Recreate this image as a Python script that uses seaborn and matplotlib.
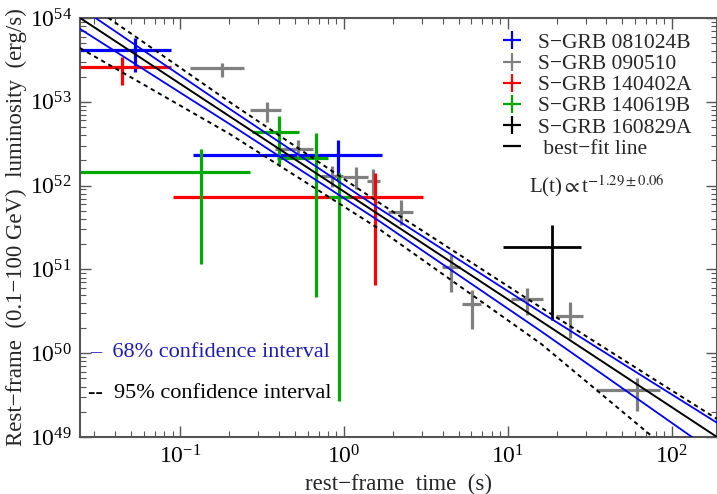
import numpy as np
import pandas as pd
import matplotlib
matplotlib.use("Agg")
import matplotlib.pyplot as plt
from matplotlib.lines import Line2D
import seaborn as sns

# ---------------- data ----------------
# S-GRB 081024B (blue)
b_t   = [0.053, 0.915]
b_tlo = [0.015, 0.1205]
b_thi = [0.088, 1.712]
b_L   = [4.15e53, 2.32e52]
b_Llo = [2.29e53, 1.17e52]
b_Lhi = [5.8e53, 3.5e52]

# S-GRB 090510 (gray)
g_t   = [0.180, 0.340, 0.522, 0.841, 1.184, 1.509, 2.217, 4.47, 6.01, 13.18, 24.0, 61.0]
g_tlo = [0.1146, 0.267, 0.380, 0.721, 0.990, 1.387, 1.862, 3.94, 5.28, 10.39, 19.6, 34.4]
g_thi = [0.2445, 0.413, 0.650, 0.990, 1.406, 1.657, 2.647, 5.10, 6.82, 16.28, 28.9, 85.3]
g_L   = [2.51e53, 7.98e52, 2.71e52, 1.31e52, 1.27e52, 1.135e52, 4.89e51, 1.06e51, 3.86e50, 4.4e50, 2.78e50, 3.64e49]
g_Llo = [1.96e53, 5.69e52, 2.19e52, 9.7e51, 9.1e51, 7.7e51, 3.39e51, 5.42e50, 1.93e50, 2.86e50, 1.52e50, 2.04e49]
g_Lhi = [2.93e53, 1.0e53, 3.5e52, 1.71e52, 1.67e52, 1.56e52, 6.73e51, 1.49e51, 5.67e50, 5.95e50, 4.12e50, 5.1e49]

# S-GRB 140402A (red)
r_t   = [0.0444, 1.545]
r_tlo = [0.015, 0.0902]
r_thi = [0.088, 3.02]
r_L   = [2.62e53, 7.36e51]
r_Llo = [1.58e53, 6.6e50]
r_Lhi = [3.45e53, 1.40e52]

# S-GRB 140619B (green)
gr_t   = [0.134, 0.402, 0.672, 0.936]
gr_tlo = [0.015, 0.2735, 0.389, 0.814]
gr_thi = [0.267, 0.534, 0.802, 1.088]
gr_L   = [1.44e52, 4.33e52, 2.12e52, 7.28e51]
gr_Llo = [1.15e51, 1.76e52, 4.65e50, 2.69e49]
gr_Lhi = [2.74e52, 6.8e52, 4.2e52, 1.43e52]

# S-GRB 160829A (black)
k_t   = [18.6]
k_tlo = [9.29]
k_thi = [27.8]
k_L   = [1.84e51]
k_Llo = [2.49e50]
k_Lhi = [3.39e51]

# best-fit line and confidence bands (log10 L at sample times)
fit_t      = [0.0245, 0.2, 1.6, 16.0, 77.0, 189.0]
fit_logL   = [54.001, 52.828, 51.666, 50.380, 49.502, 49.000]
c68_up     = [54.126, 52.917, 51.740, 50.485, 49.647, 49.170]
c68_lo     = [53.870, 52.736, 51.591, 50.260, 49.325, 48.790]
c95_up     = [54.237, 52.999, 51.809, 50.542, 49.696, 49.215]
c95_lo     = [53.641, 52.618, 51.496, 50.110, 48.997, 48.360]

# ---------------- style ----------------
sns.set_theme(style="ticks")
plt.rcParams["font.family"] = ["Liberation Serif", "DejaVu Serif"]
plt.rcParams["mathtext.fontset"] = "stix"

fig = plt.figure(figsize=(7.17, 4.94), dpi=100)
ax = fig.add_axes([80 / 717, 57 / 494, 637 / 717, 419 / 494])
ax.set_xscale("log")
ax.set_yscale("log")

spine_c = "#555555"

groups = [
    ("S\u2212GRB 081024B", "#0000ff", b_t, b_tlo, b_thi, b_L, b_Llo, b_Lhi, 2.3),
    ("S\u2212GRB 090510", "#808080", g_t, g_tlo, g_thi, g_L, g_Llo, g_Lhi, 2.3),
    ("S\u2212GRB 140402A", "#ff0000", r_t, r_tlo, r_thi, r_L, r_Llo, r_Lhi, 2.3),
    ("S\u2212GRB 140619B", "#00aa00", gr_t, gr_tlo, gr_thi, gr_L, gr_Llo, gr_Lhi, 2.3),
    ("S\u2212GRB 160829A", "#000000", k_t, k_tlo, k_thi, k_L, k_Llo, k_Lhi, 2.0),
]

handles = []
for name, col, t, tlo, thi, L, Llo, Lhi, lw in groups:
    t = np.array(t); L = np.array(L)
    xerr = [t - np.array(tlo), np.array(thi) - t]
    yerr = [L - np.array(Llo), np.array(Lhi) - L]
    ax.errorbar(t, L, xerr=xerr, yerr=yerr, fmt="none", ecolor=col,
                elinewidth=lw, capsize=0, zorder=2)
    handles.append(Line2D([], [], color=col, marker="+", markersize=13,
                          mew=1.6, linestyle="none", label=name))
handles.append(Line2D([], [], color="black", marker="_", markersize=13,
                      mew=1.6, linestyle="none", label=" best\u2212fit line"))

df = pd.DataFrame({
    "t": fit_t,
    "fit": np.power(10.0, fit_logL),
    "u68": np.power(10.0, c68_up),
    "l68": np.power(10.0, c68_lo),
    "u95": np.power(10.0, c95_up),
    "l95": np.power(10.0, c95_lo),
})

for col, c, ls, lw in [("u95", "black", (0, (2.2, 2.0)), 1.4),
                       ("l95", "black", (0, (2.2, 2.0)), 1.4),
                       ("u68", "#0000ff", "-", 1.3),
                       ("l68", "#0000ff", "-", 1.3),
                       ("fit", "black", "-", 1.4)]:
    sns.lineplot(data=df, x="t", y=col, ax=ax, color=c, linewidth=lw,
                 estimator=None, sort=False, zorder=3)
    ax.lines[-1].set_linestyle(ls)

ax.set_xlim(0.0245, 189)
ax.set_ylim(1e49, 1e54)

ax.tick_params(which="both", direction="in", top=True, right=True,
               color=spine_c, labelsize=17, labelcolor="black")
ax.tick_params(which="major", length=8, width=1.0, pad=6)
ax.tick_params(which="minor", length=4, width=0.8)
for s in ax.spines.values():
    s.set_color(spine_c)
    s.set_linewidth(1.5)

ax.set_xlabel("rest\u2212frame  time  (s)", fontsize=16.5, labelpad=4)
ax.set_ylabel("Rest\u2212frame  (0.1\u2212100 GeV)  luminosity  (erg/s)",
              fontsize=16.5, labelpad=2)

leg = ax.legend(handles=handles, loc="upper left", bbox_to_anchor=(0.645, 0.985),
                frameon=False, fontsize=15.5, handlelength=1.2, handletextpad=0.6,
                labelspacing=0.05, borderaxespad=0)

ax.text(0.705, 0.60, r"L(t)$\propto$t$^{-1.29\pm0.06}$", transform=ax.transAxes,
        fontsize=15, ha="left", va="center")
ax.text(0.016, 0.201, "\u2013  68% confidence interval", transform=ax.transAxes,
        fontsize=16, color="#1c1cb4", ha="left", va="center")
ax.text(0.012, 0.103, "--  95% confidence interval", transform=ax.transAxes,
        fontsize=16, color="black", ha="left", va="center")

fig.savefig("out.png", dpi=100)
